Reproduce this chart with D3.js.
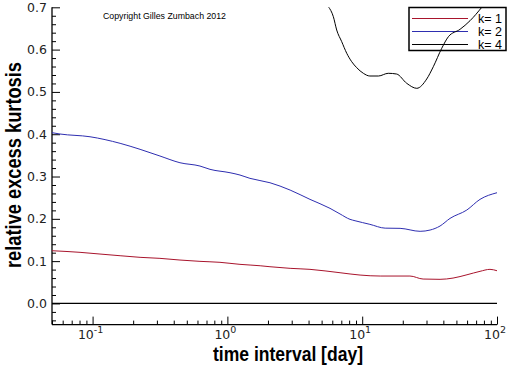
<!DOCTYPE html>
<html>
<head>
<meta charset="utf-8">
<script src="https://cdn.jsdelivr.net/npm/d3@7"></script>
<style>
  body { margin: 0; background: #fff; }
  svg { display: block; }
</style>
</head>
<body>
<div id="chart"></div>
<script>
// time interval [day] and relative excess kurtosis
const k1Time = [0.05, 0.0807, 0.1135, 0.16, 0.225, 0.316, 0.445, 0.626, 0.881, 1.24, 1.75, 2.07, 2.92, 4.10, 6.85, 9.64, 13.6, 22.6, 28.3, 37.8, 47.2, 59.9, 74.8, 88.7, 100];
const k1Kurt = [0.1246, 0.1208, 0.1168, 0.1128, 0.109, 0.1066, 0.1026, 0.0995, 0.0972, 0.0924, 0.0891, 0.0868, 0.083, 0.0806, 0.0726, 0.0671, 0.0648, 0.0648, 0.0577, 0.057, 0.06, 0.0678, 0.0759, 0.0806, 0.0773];

const k2Time = [0.05, 0.0573, 0.0957, 0.16, 0.225, 0.316, 0.445, 0.626, 0.743, 1.046, 1.24, 1.47, 2.07, 2.92, 4.10, 5.77, 6.85, 8.12, 8.85, 11.4, 14.8, 19.1, 26.9, 31.9, 37.8, 44.8, 59.7, 74.8, 100];
const k2Kurt = [0.4036, 0.4005, 0.394, 0.3785, 0.3643, 0.3485, 0.3326, 0.3248, 0.317, 0.309, 0.3035, 0.2957, 0.2853, 0.268, 0.246, 0.2248, 0.2115, 0.1988, 0.1955, 0.187, 0.178, 0.1775, 0.1705, 0.1735, 0.183, 0.201, 0.2208, 0.246, 0.2617];

const k4Time = [5.61, 6.11, 6.47, 7.05, 7.68, 8.36, 9.11, 10.2, 11.4, 13.2, 15.6, 18.0, 21.4, 25.4, 30.1, 33.7, 38.9, 43.6, 53.2, 63.1, 77.1];
const k4Kurt = [0.7014, 0.6778, 0.6463, 0.6187, 0.5913, 0.5714, 0.5572, 0.544, 0.5376, 0.5376, 0.544, 0.5423, 0.5203, 0.5085, 0.5305, 0.5596, 0.6031, 0.6305, 0.648, 0.6683, 0.70];

const seriesNames = ["k= 1", "k= 2", "k= 4"];
const seriesColors = ["#a8142c", "#2e2eb0", "#000000"];

const yMajor = [0, 0.1, 0.2, 0.3, 0.4, 0.5, 0.6, 0.7];
const xMajor = [0.1, 1, 10, 100];
const xMajorExp = ["-1", "0", "1", "2"];

const W = 512, H = 366;
const svg = d3.select("#chart").append("svg")
    .attr("width", W)
    .attr("height", H);

const x = d3.scaleLog().domain([0.05, 100]).range([52, 497]);
const y = d3.scaleLinear().domain([-0.05, 0.7]).range([324.6, 7.3]);

// minor ticks
const xMinor = [];
[-2, -1, 0, 1].forEach(d => {
    for (let k = 2; k <= 9; k++) {
        const v = k * Math.pow(10, d);
        if (v >= 0.05 && v <= 100) xMinor.push(v);
    }
});
const yMinor = d3.range(-2, 36).map(i => i * 0.02).filter(v => !yMajor.some(m => Math.abs(m - v) < 1e-9));

svg.append("defs").append("clipPath").attr("id", "plot-clip")
  .append("rect")
    .attr("x", x.range()[0]).attr("y", y.range()[1])
    .attr("width", x.range()[1] - x.range()[0])
    .attr("height", y.range()[0] - y.range()[1]);

// --- Axes ---
const xAxisG = svg.append("g").attr("transform", `translate(0,${y.range()[0]})`);
xAxisG.call(d3.axisBottom(x).tickValues(xMinor).tickSizeInner(-4).tickSizeOuter(0).tickFormat(""));
xAxisG.append("g").call(d3.axisBottom(x).tickValues(xMajor).tickSizeInner(-8).tickSizeOuter(0));
xAxisG.selectAll("text").remove();
xAxisG.selectAll(".domain").remove();
xAxisG.append("line")
    .attr("x1", x.range()[0]).attr("x2", x.range()[1])
    .attr("stroke", "#000").attr("stroke-width", 1.3);

const yAxisG = svg.append("g").attr("transform", `translate(${x.range()[0]},0)`);
yAxisG.call(d3.axisLeft(y).tickValues(yMinor).tickSizeInner(-4).tickSizeOuter(0).tickFormat(""));
yAxisG.selectAll("text").remove();
yAxisG.append("g").call(d3.axisLeft(y).tickValues(yMajor).tickSizeInner(-8).tickSizeOuter(0).tickPadding(5).tickFormat(d3.format(".1f")));
yAxisG.selectAll(".domain").remove();
yAxisG.append("line")
    .attr("y1", y.range()[0]).attr("y2", y.range()[1])
    .attr("stroke", "#000").attr("stroke-width", 1.3);
svg.selectAll(".tick line").attr("stroke", "#000").attr("stroke-width", 1);
yAxisG.selectAll("text")
    .attr("font-family", "DejaVu Sans")
    .attr("font-size", 12.5)
    .attr("fill", "#222");

// x tick labels as 10 with superscript
const xLab = svg.append("g")
    .attr("font-family", "DejaVu Sans")
    .attr("fill", "#222")
    .attr("text-anchor", "middle");
xMajor.forEach((v, i) => {
    const t = xLab.append("text")
        .attr("x", x(v) - 2)
        .attr("y", 339)
        .attr("font-size", 12.5);
    t.append("tspan").text("10");
    t.append("tspan").attr("dy", -6).attr("font-size", 9.5).text(xMajorExp[i]);
});

// zero line
svg.append("line")
    .attr("x1", x.range()[0]).attr("x2", x.range()[1])
    .attr("y1", y(0)).attr("y2", y(0))
    .attr("stroke", "#000").attr("stroke-width", 1.3);

// axis titles
svg.append("text")
    .attr("x", 288).attr("y", 361)
    .attr("text-anchor", "middle")
    .attr("font-family", "Liberation Sans")
    .attr("font-weight", "bold")
    .attr("font-size", 21)
    .attr("textLength", 150)
    .attr("lengthAdjust", "spacingAndGlyphs")
    .attr("fill", "#000")
    .text("time interval [day]");

svg.append("text")
    .attr("transform", "translate(21,165) rotate(-90)")
    .attr("text-anchor", "middle")
    .attr("font-family", "Liberation Sans")
    .attr("font-weight", "bold")
    .attr("font-size", 22)
    .attr("textLength", 206)
    .attr("lengthAdjust", "spacingAndGlyphs")
    .attr("fill", "#000")
    .text("relative excess kurtosis");

svg.append("text")
    .attr("x", 103).attr("y", 19)
    .attr("font-family", "Liberation Sans")
    .attr("font-size", 9.5)
    .attr("textLength", 123)
    .attr("lengthAdjust", "spacingAndGlyphs")
    .attr("fill", "#000")
    .text("Copyright Gilles Zumbach 2012");

// --- Legend ---
const legend = svg.append("g").attr("transform", "translate(409,7.5)");
legend.append("rect")
    .attr("width", 97).attr("height", 43)
    .attr("fill", "#fff").attr("stroke", "#000").attr("stroke-width", 1.5);
seriesNames.forEach((name, i) => {
    const yy = 11 + i * 13;
    legend.append("line")
        .attr("x1", 3).attr("x2", 59)
        .attr("y1", yy).attr("y2", yy)
        .attr("stroke", seriesColors[i]).attr("stroke-width", 1.2);
    legend.append("text")
        .attr("x", 69).attr("y", yy)
        .attr("dy", "0.36em")
        .attr("font-family", "Liberation Sans")
        .attr("font-size", 12.5)
        .attr("fill", "#000")
        .text(name);
});

// --- Curves ---
const line = d3.line()
    .x(d => x(d[0]))
    .y(d => y(d[1]))
    .curve(d3.curveMonotoneX);

const series = [
    d3.zip(k1Time, k1Kurt),
    d3.zip(k2Time, k2Kurt),
    d3.zip(k4Time, k4Kurt)
];

svg.append("g").attr("clip-path", "url(#plot-clip)")
  .selectAll("path")
  .data(series)
  .join("path")
    .attr("d", line)
    .attr("fill", "none")
    .attr("stroke", (d, i) => seriesColors[i])
    .attr("stroke-width", 1);
</script>
</body>
</html>
